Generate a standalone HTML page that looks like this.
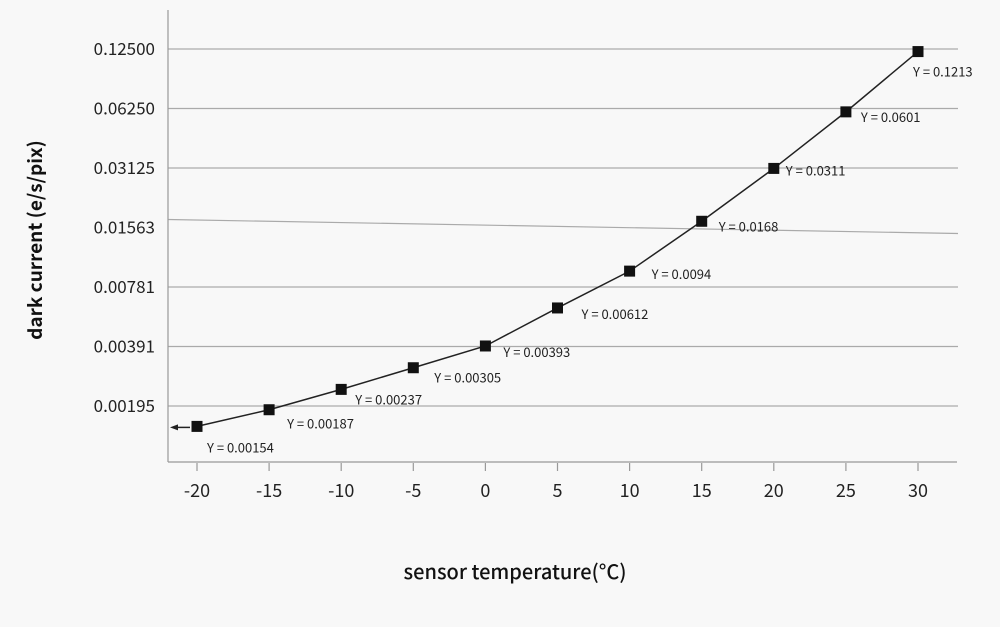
<!DOCTYPE html>
<html><head><meta charset="utf-8"><style>
body{margin:0;background:#f8f8f8;}
svg{display:block;font-family:"Noto Sans CJK SC","Liberation Sans",sans-serif;}
</style></head><body>
<svg id="chart" width="1000" height="627">
<rect width="1000" height="627" fill="#f8f8f8"/>
<g id="grid"></g><g id="axes"></g><g id="series"></g>
<text x="515" y="579" font-size="20" font-weight="500" text-anchor="middle" fill="#111">sensor temperature(°C)</text>
<text transform="translate(42,240) rotate(-90)" font-size="19" font-weight="bold" text-anchor="middle" fill="#111">dark current (e/s/pix)</text>
</svg>
<script>
const temps=[-20,-15,-10,-5,0,5,10,15,20,25,30];
const currents=[0.00154,0.00187,0.00237,0.00305,0.00393,0.00612,0.0094,0.0168,0.0311,0.0601,0.1213];
const valueLabels=["0.00154","0.00187","0.00237","0.00305","0.00393","0.00612","0.0094","0.0168","0.0311","0.0601","0.1213"];
const yTicks=[0.125,0.0625,0.03125,0.015625,0.0078125,0.00390625,0.001953125];
const yTickLabels=["0.12500","0.06250","0.03125","0.01563","0.00781","0.00391","0.00195"];
const xTicks=[-20,-15,-10,-5,0,5,10,15,20,25,30];
const NS="http://www.w3.org/2000/svg";
const X=t=>197+(t+20)*(721/50);
const Y=v=>49+(Math.log2(0.125)-Math.log2(v))*59.5;
const lblDx=[10,18,14,21,18,24,22,17,12,15,-5];
const lblDy=[26,19,15,15,11,11,8,10,7,10,25];
function mk(tag,attrs,parent,txt){const e=document.createElementNS(NS,tag);for(const k in attrs)e.setAttribute(k,attrs[k]);if(txt!==undefined)e.textContent=txt;document.getElementById(parent).appendChild(e);return e;}
yTicks.forEach((v,i)=>{const y=Y(v);
 const l=mk('line',{x1:168,x2:958,y1:i===3?y-8:y,y2:i===3?y+6:y,stroke:'#aaa','stroke-width':1.2},'grid');
 
 const t=mk('text',{x:155,y:y+6,'font-size':17,'text-anchor':'end',fill:'#222'},'grid',yTickLabels[i]);
 
});
let a=mk('line',{x1:168,x2:168,y1:10,y2:462,stroke:'#999','stroke-width':1.2},'axes');

a=mk('line',{x1:168,x2:957,y1:462,y2:462,stroke:'#999','stroke-width':1.2},'axes');

xTicks.forEach(t=>{const x=X(t);
 const k=mk('line',{x1:x,x2:x,y1:463,y2:471,stroke:'#999','stroke-width':1.2},'axes');
 
 const s=mk('text',{x:x,y:497,'font-size':18,'text-anchor':'middle',fill:'#222'},'axes',String(t));
 
});
const pts=temps.map((t,i)=>X(t)+','+Y(currents[i])).join(' ');
const pl=mk('polyline',{points:pts,fill:'none',stroke:'#222','stroke-width':1.5},'series');

const ay=Y(currents[0])+1;
const ar=mk('line',{x1:176,x2:X(temps[0])-7,y1:ay,y2:ay,stroke:'#222','stroke-width':1.5},'series');

const ah=mk('polygon',{points:`170,${ay} 178,${ay-3} 178,${ay+3}`,fill:'#222'},'series');

temps.forEach((t,i)=>{const x=X(t),y=Y(currents[i]);
 const r=mk('rect',{x:x-5.5,y:y-5.5,width:11,height:11,fill:'#111'},'series');
 
 const lb=mk('text',{x:x+lblDx[i],y:y+lblDy[i],'font-size':13,fill:'#222'},'series','Y = '+valueLabels[i]);
 
});
</script>
</body></html>
